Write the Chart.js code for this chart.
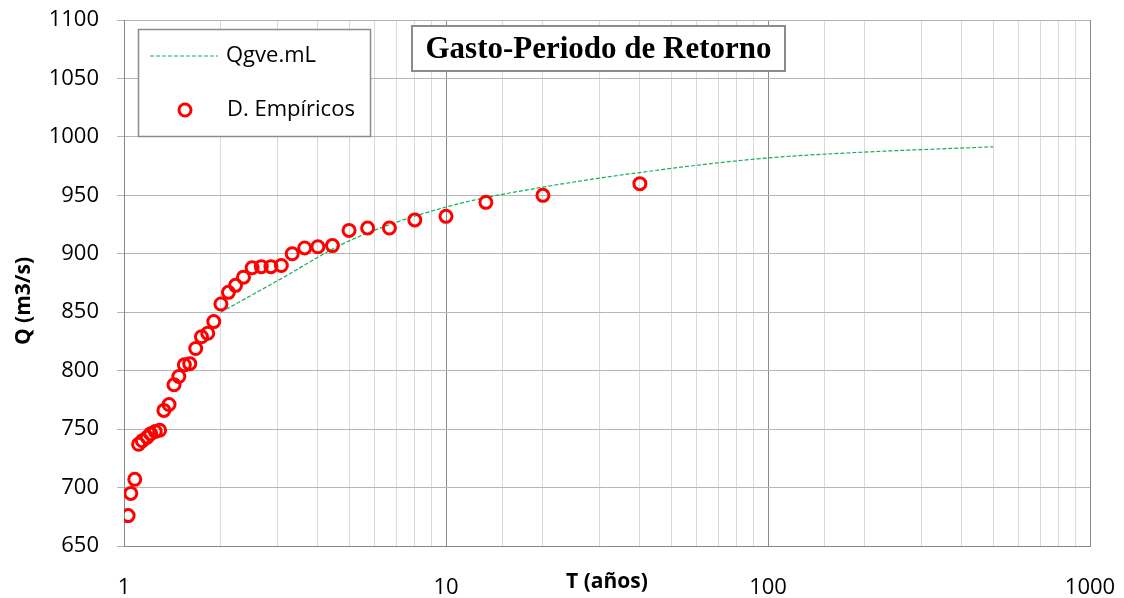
<!DOCTYPE html>
<html>
<head>
<meta charset="utf-8">
<script src="https://cdn.jsdelivr.net/npm/chart.js@4/dist/chart.umd.min.js"></script>
<style>
  html, body { margin: 0; padding: 0; background: #fff; }
  #wrap { width: 1124px; height: 598px; }
</style>
</head>
<body>
<div id="wrap"><canvas id="chart" width="1124" height="598"></canvas></div>
<script>
// Empirical data (return period T in years, discharge Q in m3/s)
const empiricalT = [40, 20, 13.3, 10, 8, 6.67, 5.71, 5, 4.44, 4, 3.64, 3.33, 3.08, 2.86, 2.67, 2.5,
    2.35, 2.22, 2.11, 2, 1.9, 1.82, 1.74, 1.67, 1.6, 1.54, 1.48, 1.43, 1.38, 1.33, 1.29, 1.25,
    1.21, 1.18, 1.14, 1.11, 1.08, 1.05, 1.03];
const empiricalQ = [960, 950, 944, 932, 929, 922, 922, 920, 907, 906, 905, 900, 890, 889, 889, 888,
    880, 873, 867, 857, 842, 832, 829, 819, 806, 805, 795, 788, 771, 766, 749, 748,
    746, 743, 740, 737, 707, 695, 676];

// Fitted curve Qgve.mL
const fitT = [2, 3, 5, 10, 20, 50, 100, 200, 500];
const fitQ = [850, 877, 911, 940, 957, 973, 982, 987, 991.5];

const yTicks = { min: 650, max: 1100, step: 50 };
const xRange = { min: 1, max: 1000 };

const isDecade = v => Math.abs(Math.log10(v) - Math.round(Math.log10(v))) < 1e-9;

// Legend, title box and y axis title
const overlayPlugin = {
    id: 'overlay',
    afterDraw(chart) {
        const c = chart.ctx;
        c.save();
        c.textAlign = 'left';
        c.textBaseline = 'middle';
        // legend box
        c.fillStyle = '#fff';
        c.fillRect(138, 29, 232, 107);
        c.strokeStyle = '#8c8c8c';
        c.lineWidth = 1.5;
        c.strokeRect(138.5, 29.5, 232, 107);
        c.strokeStyle = '#14b05a';
        c.lineWidth = 1.2;
        c.setLineDash([4, 2]);
        c.beginPath(); c.moveTo(150, 56); c.lineTo(218, 56); c.stroke();
        c.setLineDash([]);
        c.strokeStyle = '#ff0000';
        c.lineWidth = 3;
        c.beginPath(); c.arc(185, 110, 6, 0, Math.PI * 2); c.stroke();
        c.fillStyle = '#000';
        c.font = '22px "Open Sans"';
        c.fillText('Qgve.mL', 226, 56);
        c.fillText('D. Empíricos', 227, 110);
        // title box
        c.fillStyle = '#fff';
        c.fillRect(412, 26, 373, 45);
        c.strokeStyle = '#8c8c8c';
        c.lineWidth = 2;
        c.strokeRect(412, 26, 373, 45);
        c.fillStyle = '#000';
        c.font = 'bold 31px "Liberation Serif"';
        c.textAlign = 'center';
        c.fillText('Gasto-Periodo de Retorno', 598.5, 50);
        // y axis title
        c.translate(24, 301);
        c.rotate(-Math.PI / 2);
        c.font = 'bold 21px "Open Sans"';
        c.fillText('Q (m3/s)', 0, 0);
        c.restore();
    }
};

const ctx = document.getElementById('chart').getContext('2d');
const chart = new Chart(ctx, {
    type: 'scatter',
    data: {
        datasets: [{
            label: 'D. Empíricos',
            data: empiricalT.map((t, i) => ({ x: t, y: empiricalQ[i] })),
            pointStyle: 'circle',
            pointRadius: 6,
            pointBorderWidth: 3,
            borderColor: '#ff0000',
            backgroundColor: 'rgba(0,0,0,0)',
            showLine: false
        }, {
            label: 'Qgve.mL',
            data: fitT.map((t, i) => ({ x: t, y: fitQ[i] })),
            showLine: true,
            pointRadius: 0,
            borderColor: '#14b05a',
            borderWidth: 1.2,
            borderDash: [4, 2],
            cubicInterpolationMode: 'monotone',
            fill: false
        }]
    },
    options: {
        responsive: false,
        animation: false,
        layout: { padding: { top: 20, right: 34, left: 0, bottom: 0 } },
        plugins: { legend: { display: false }, tooltip: { enabled: false } },
        scales: {
            x: {
                type: 'logarithmic',
                min: xRange.min,
                max: xRange.max,
                afterFit(scale) {
                    scale.height = 52;
                    scale.paddingLeft = 0;
                    scale.paddingRight = 0;
                },
                border: { color: '#868686', width: 1 },
                grid: {
                    drawTicks: false,
                    color: c => isDecade(c.tick.value) ? '#8a8a8a' : '#d9d9d9',
                    lineWidth: 1
                },
                ticks: {
                    autoSkip: false,
                    maxRotation: 0,
                    padding: 29,
                    color: '#000',
                    font: { family: 'Open Sans', size: 22 },
                    callback: v => isDecade(v) ? String(v) : ''
                },
                title: {
                    display: true,
                    text: 'T (años)',
                    color: '#000',
                    font: { family: 'Open Sans', size: 21, weight: 'bold' },
                    padding: { top: 0, bottom: 3 }
                }
            },
            y: {
                min: yTicks.min,
                max: yTicks.max,
                afterFit(scale) {
                    scale.width = 124;
                    scale.paddingTop = 0;
                    scale.paddingBottom = 0;
                },
                border: { color: '#868686', width: 1 },
                grid: { color: '#b5b5b5', lineWidth: 1, tickLength: 7 },
                ticks: {
                    stepSize: yTicks.step,
                    padding: 18,
                    color: '#000',
                    font: { family: 'Open Sans', size: 22 },
                    callback: v => String(v)
                },
                title: { display: false }
            }
        }
    },
    plugins: [overlayPlugin]
});
</script>
</body>
</html>
